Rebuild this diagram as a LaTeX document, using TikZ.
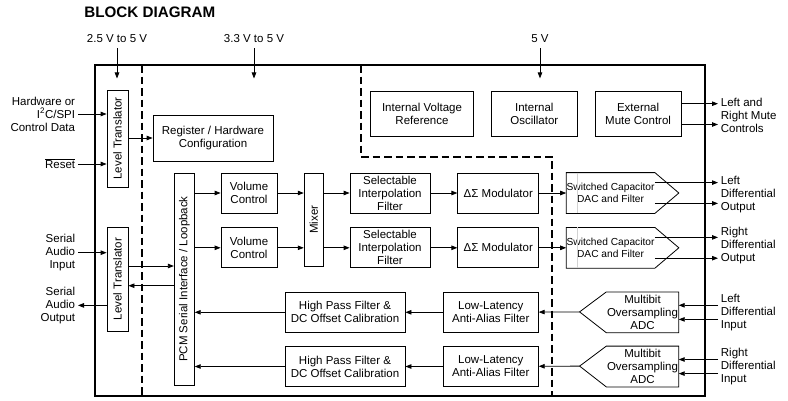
\documentclass[tikz,border=0pt]{standalone}
\usepackage{fontspec}
\setmainfont{Liberation Sans}
\usetikzlibrary{positioning, calc, arrows.meta}

\begin{document}
\begin{tikzpicture}[x=1pt, y=-1pt, node distance=27pt, line width=0.8pt,
>={Triangle[length=6pt,width=4.5pt]},
txt/.style={font=\fontsize{11.5}{13}\selectfont, align=center, inner sep=0pt},
blk/.style={txt, rectangle, draw=black},
lside/.style={txt, align=right, anchor=east, inner xsep=2.5pt},
rside/.style={txt, align=left, anchor=west, inner xsep=2.5pt},
sep/.style={line width=1.7pt, dash pattern=on 7.5pt off 4pt}]
\useasboundingbox (0,0) rectangle (788,400);
\node (T) [txt, anchor=west, font=\fontsize{15.2}{17}\selectfont\bfseries] at (84,12.5) {BLOCK DIAGRAM};

% supplies
\node (V1) [txt] at (117,39) {2.5 V to 5 V};
\node (V2) [txt] at (254,39) {3.3 V to 5 V};
\node (V3) [txt] at (540,39) {5 V};
\foreach \v in {V1,V2,V3}
  \draw[->] ([yshift=-5pt]\v.south) -- ++(0,30);

% chip outline and supply domains
\draw[line width=2pt] (95,65) rectangle (705,396);
\draw[sep] (141.7,65) -- (141.7,396);
\draw[sep] (360.7,65) -- (360.7,156.7) -- (552,156.7) -- (552,396);

% level translators
\node (LT1) [blk, minimum width=21pt, minimum height=97pt] at (117.5,138.5) {};
\node [txt, rotate=90] at (LT1) {Level Translator};
\node (LT2) [blk, minimum width=21pt, minimum height=104pt] at (117.5,279) {};
\node [txt, rotate=90] at (LT2) {Level Translator};
\node (REG) [blk, minimum width=120pt, minimum height=46pt] at (213,138) {Register / Hardware\\Configuration};
\node (PCM) [blk, minimum width=20pt, minimum height=212pt] at (184.3,279) {};
\node [txt, rotate=90] at (PCM) {PCM Serial Interface / Loopback};

% left side
\node (HW) [lside] at (78,114) {Hardware or\\I\textsuperscript{2}C/SPI\\Control Data};
\node (RST) [lside] at (78,164) {\setbox0\hbox{Reset}\rlap{\rule[\dimexpr\ht0+1.2pt\relax]{\wd0}{0.6pt}}\box0};
\node (SIN) [lside] at (78,252.7) {Serial\\Audio\\Input};
\node (SOUT) [lside] at (78,305.4) {Serial\\Audio\\Output};
\draw[->] (HW) -- (LT1.west |- HW);
\draw[->] (RST) -- (LT1.west |- RST);
\draw[->] (LT1.east |- REG) -- (REG);
\draw[->] (SIN) -- (LT2.west |- SIN);
\draw[->] ($(LT2.east)+(0,-13)$) -- ($(PCM.west |- LT2.east)+(0,-13)$);
\draw[->] ($(PCM.west |- LT2.east)+(0,6.7)$) -- ($(LT2.east)+(0,6.7)$);
\draw[->] (LT2.west |- SOUT) -- (SOUT);

% playback path
\node (VC1) [blk, minimum width=56pt, minimum height=40pt] at (249,193) {Volume\\Control};
\node (VC2) [blk, minimum width=56pt, minimum height=40pt, below=14pt of VC1] {Volume\\Control};
\node (MIX) [blk, minimum width=19pt, minimum height=93pt] at (313.7,219.7) {};
\node [txt, rotate=90] at (MIX) {Mixer};
\node (SIF1) [blk, minimum width=80pt, minimum height=40pt] at (390,193) {Selectable\\Interpolation\\Filter};
\node (SIF2) [blk, minimum width=80pt, minimum height=40pt, below=14pt of SIF1] {Selectable\\Interpolation\\Filter};
\node (DSM1) [blk, minimum width=81pt, minimum height=40pt, right=of SIF1] {ΔΣ Modulator};
\node (DSM2) [blk, minimum width=81pt, minimum height=40pt, right=of SIF2] {ΔΣ Modulator};
\node (DAC1) [txt, font=\fontsize{10.2}{12.6}\selectfont, minimum width=87pt, minimum height=40pt, right=of DSM1] {Switched Capacitor\\DAC and Filter};
\node (DAC2) [txt, font=\fontsize{10.2}{12.6}\selectfont, minimum width=87pt, minimum height=40pt, right=of DSM2] {Switched Capacitor\\DAC and Filter};
\foreach \d in {DAC1,DAC2} {
  \draw (\d.north west) -- (\d.north east) -- ($(\d.east)+(24,0)$) -- (\d.south east) -- (\d.south west) -- cycle;
  \draw[gray!35, line width=0.5pt] ($(\d.north west)+(11,0)$) -- ($(\d.south west)+(11,0)$);
}
\node (LOUT) [rside] at (718,194.5) {Left\\Differential\\Output};
\node (ROUT) [rside] at (718,246) {Right\\Differential\\Output};

\foreach \i in {1,2} {
  \draw[->] (PCM.east |- VC\i) -- (VC\i);
  \draw[->] (VC\i) -- (MIX.west |- VC\i);
  \draw[->] (MIX.east |- SIF\i) -- (SIF\i);
  \draw[->] (SIF\i) -- (DSM\i);
  \draw[->] (DSM\i) -- (DAC\i);
}
\foreach \d/\o in {DAC1/LOUT, DAC2/ROUT} {
  \draw[->] ($(\d.north east)+(0,10)$) -- ($(\o.west |- \d.north east)+(0,10)$);
  \draw[->] ($(\d.south east)+(0,-10)$) -- ($(\o.west |- \d.south east)+(0,-10)$);
}

% references and mute
\node (IVR) [blk, minimum width=103pt, minimum height=45pt] at (422,114) {Internal Voltage\\Reference};
\node (OSC) [blk, minimum width=86pt, minimum height=45pt, right=17pt of IVR] {Internal\\Oscillator};
\node (EMC) [blk, minimum width=86pt, minimum height=45pt, right=17pt of OSC] {External\\Mute Control};
\node (MUTE) [rside] at (718,115) {Left and\\Right Mute\\Controls};
\draw[->] ($(EMC.north east)+(0,12.6)$) -- ($(MUTE.west |- EMC.north east)+(0,12.6)$);
\draw[->] ($(EMC.south east)+(0,-12.4)$) -- ($(MUTE.west |- EMC.south east)+(0,-12.4)$);

% record path
\node (HPF1) [blk, minimum width=120pt, minimum height=40pt] at (345,312.3) {High Pass Filter \&\\DC Offset Calibration};
\node (HPF2) [blk, minimum width=120pt, minimum height=40pt, below=13.4pt of HPF1] {High Pass Filter \&\\DC Offset Calibration};
\node (LLA1) [blk, minimum width=95pt, minimum height=40pt] at (490.8,312.3) {Low-Latency\\Anti-Alias Filter};
\node (LLA2) [blk, minimum width=95pt, minimum height=40pt, below=13.4pt of LLA1] {Low-Latency\\Anti-Alias Filter};
\node (ADC1) [txt, minimum width=71.6pt, minimum height=40pt] at (642.5,312.3) {Multibit\\Oversampling\\ADC};
\node (ADC2) [txt, minimum width=71.6pt, minimum height=40pt, below=13.4pt of ADC1] {Multibit\\Oversampling\\ADC};
\node (LIN) [rside] at (718,312.7) {Left\\Differential\\Input};
\node (RIN) [rside] at (718,366.7) {Right\\Differential\\Input};
\foreach \i/\n in {1/LIN,2/RIN} {
  \draw (ADC\i.north east) -- (ADC\i.north west) -- ++(-26.7,20) coordinate (tip\i) -- (ADC\i.south west) -- (ADC\i.south east) -- cycle;
  \draw[->] (tip\i) -- (LLA\i);
  \draw[->] (LLA\i) -- (HPF\i);
  \draw[->] (HPF\i) -- (PCM.east |- HPF\i);
  \draw[->] ($(\n.west |- ADC\i.north east)+(0,13.4)$) -- ($(ADC\i.north east)+(0,13.4)$);
  \draw[->] ($(\n.west |- ADC\i.south east)+(0,-13.3)$) -- ($(ADC\i.south east)+(0,-13.3)$);
}
\end{tikzpicture}
\end{document}
